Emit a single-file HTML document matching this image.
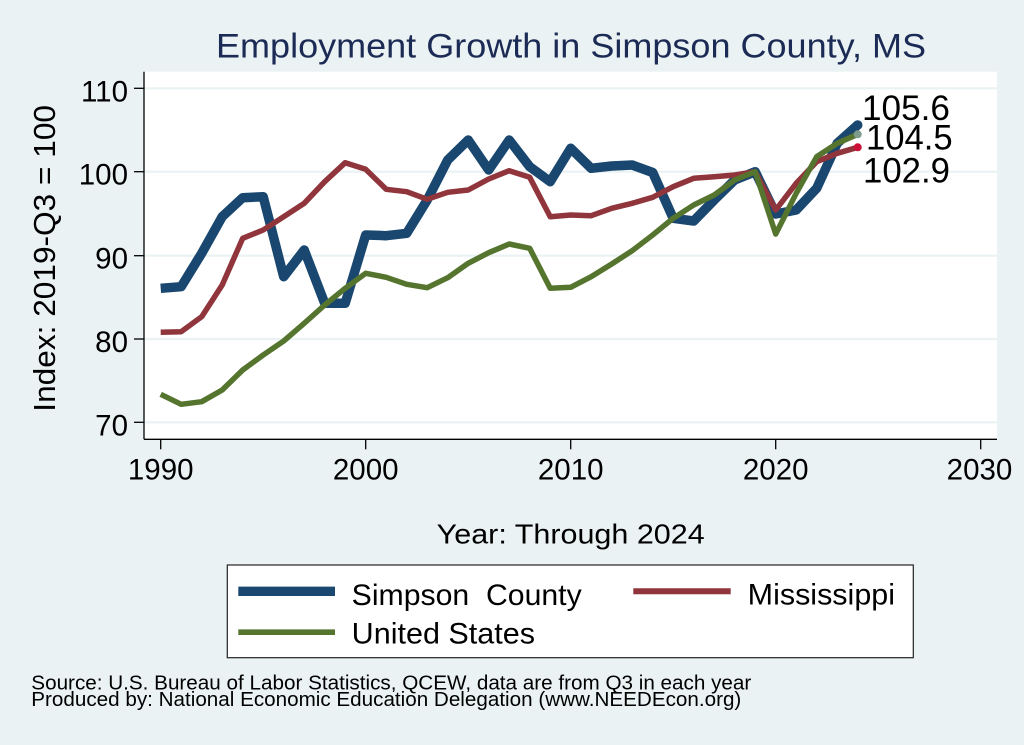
<!DOCTYPE html>
<html>
<head>
<meta charset="utf-8">
<style>
  html, body { margin: 0; padding: 0; background: #eaf2f3; }
  svg { display: block; }
  text { font-family: "Liberation Sans", "DejaVu Sans", sans-serif; }
</style>
</head>
<body>
<svg width="1024" height="745" viewBox="0 0 1024 745" xmlns="http://www.w3.org/2000/svg">
  <rect x="0" y="0" width="1024" height="745" fill="#eaf2f3"/>
  <!-- plot region -->
  <rect x="144" y="71.7" width="853" height="367.6" fill="#ffffff"/>
  <!-- gridlines -->
  <g stroke="#eaf2f3" stroke-width="2.2">
    <line x1="144" y1="88.3" x2="997" y2="88.3"/>
    <line x1="144" y1="171.7" x2="997" y2="171.7"/>
    <line x1="144" y1="255.7" x2="997" y2="255.7"/>
    <line x1="144" y1="339" x2="997" y2="339"/>
    <line x1="144" y1="422.3" x2="997" y2="422.3"/>
  </g>
  <!-- axes -->
  <g stroke="#000" stroke-width="1.3" fill="none">
    <line x1="144" y1="71.7" x2="144" y2="439.3"/>
    <line x1="144" y1="439.3" x2="997" y2="439.3"/>
    <!-- y ticks -->
    <line x1="134" y1="88.3" x2="144" y2="88.3"/>
    <line x1="134" y1="171.7" x2="144" y2="171.7"/>
    <line x1="134" y1="255.7" x2="144" y2="255.7"/>
    <line x1="134" y1="339" x2="144" y2="339"/>
    <line x1="134" y1="422.3" x2="144" y2="422.3"/>
    <!-- x ticks -->
    <line x1="160.7" y1="439.3" x2="160.7" y2="449.3"/>
    <line x1="365.7" y1="439.3" x2="365.7" y2="449.3"/>
    <line x1="570.7" y1="439.3" x2="570.7" y2="449.3"/>
    <line x1="775.7" y1="439.3" x2="775.7" y2="449.3"/>
    <line x1="980.7" y1="439.3" x2="980.7" y2="449.3"/>
  </g>
  <!-- y tick labels -->
  <g font-size="29.5" fill="#000" text-anchor="end">
    <text x="128" y="101.3">110</text>
    <text x="128" y="184.7">100</text>
    <text x="128" y="268.7">90</text>
    <text x="128" y="352">80</text>
    <text x="128" y="435.3">70</text>
  </g>
  <!-- x tick labels -->
  <g font-size="29.5" fill="#000" text-anchor="middle">
    <text x="160.7" y="479.3">1990</text>
    <text x="365.7" y="479.3">2000</text>
    <text x="570.7" y="479.3">2010</text>
    <text x="775.7" y="479.3">2020</text>
    <text x="979.5" y="479.3">2030</text>
  </g>

  <!-- series -->
  <g fill="none" stroke-linejoin="round" stroke-linecap="butt">
    <polyline stroke="#1a476f" stroke-width="9.5" points="160.7,288.3 181.2,286.7 201.7,253.3 222.2,216.7 242.7,197.7 263.2,196.7 283.7,276.7 304.2,250 324.7,303.3 345.2,303.3 365.7,235 386.2,235.7 406.7,233.3 427.2,200 447.7,160 468.2,140 488.7,170 509.2,140 529.7,166.7 550.2,181.7 570.7,148.3 591.2,168.3 611.7,166 632.2,165 652.7,172.5 673.2,218.3 693.7,221 714.2,200 734.7,180 755.2,171.7 775.7,214 796.2,210 816.7,188.3 837.2,143.3 857.7,125"/>
    <polyline stroke="#90353b" stroke-width="5.5" points="160.7,332.3 181.2,331.7 201.7,316.7 222.2,285 242.7,238.3 263.2,230 283.7,216.7 304.2,203.3 324.7,181.7 345.2,162.7 365.7,169.3 386.2,189.3 406.7,191.7 427.2,199.3 447.7,192.3 468.2,190 488.7,179 509.2,170.7 529.7,177.3 550.2,216.7 570.7,215 591.2,215.7 611.7,208.3 632.2,203.3 652.7,197.3 673.2,186.7 693.7,178.3 714.2,176.7 734.7,175 755.2,171.7 775.7,210 796.2,183.3 816.7,161.7 837.2,153.3 857.7,147.3"/>
    <polyline stroke="#55752f" stroke-width="5.5" points="160.7,394.3 181.2,404.3 201.7,401.7 222.2,390 242.7,370 263.2,355 283.7,341 304.2,323.3 324.7,305 345.2,288.3 365.7,273.3 386.2,277.3 406.7,284.3 427.2,287.7 447.7,277.7 468.2,263.3 488.7,252.7 509.2,244 529.7,248.3 550.2,288.3 570.7,287.3 591.2,276.7 611.7,264 632.2,250.7 652.7,235 673.2,218.3 693.7,205 714.2,195 734.7,180 755.2,171.7 775.7,234 796.2,193.3 816.7,156.7 837.2,143.3 857.7,134.3"/>
  </g>
  <!-- end dots -->
  <circle cx="857.7" cy="125" r="4.8" fill="#1a476f"/>
  <circle cx="857.7" cy="134.3" r="4" fill="#7d9a8c"/>
  <circle cx="857.7" cy="147.3" r="4" fill="#cc1038"/>
  <!-- end labels -->
  <g font-size="35" fill="#000">
    <text x="862" y="120" textLength="88" lengthAdjust="spacingAndGlyphs">105.6</text>
    <text x="866" y="149.3" textLength="86.7" lengthAdjust="spacingAndGlyphs">104.5</text>
    <text x="863" y="182.7" textLength="87" lengthAdjust="spacingAndGlyphs">102.9</text>
  </g>

  <!-- title -->
  <text x="216" y="57.7" font-size="34" fill="#1c2b55" textLength="710" lengthAdjust="spacingAndGlyphs">Employment Growth in Simpson County, MS</text>
  <!-- y axis title -->
  <text transform="translate(55,411.7) rotate(-90)" x="0" y="0" font-size="31" fill="#000" textLength="306.7" lengthAdjust="spacingAndGlyphs">Index: 2019-Q3 = 100</text>
  <!-- x axis title -->
  <text x="436.7" y="543.3" font-size="28" fill="#000" textLength="268" lengthAdjust="spacingAndGlyphs">Year: Through 2024</text>

  <!-- legend -->
  <rect x="227.3" y="565" width="686" height="92.7" fill="#ffffff" stroke="#222" stroke-width="1.2"/>
  <line x1="238.3" y1="591.3" x2="335" y2="591.3" stroke="#1a476f" stroke-width="9.3"/>
  <line x1="633.3" y1="591.3" x2="730.7" y2="591.3" stroke="#90353b" stroke-width="6"/>
  <line x1="238.3" y1="632.2" x2="335" y2="632.2" stroke="#55752f" stroke-width="5.7"/>
  <g font-size="30" fill="#000">
    <text x="351.7" y="605" textLength="230" lengthAdjust="spacingAndGlyphs">Simpson&#160; County</text>
    <text x="351.7" y="643.3" textLength="183.3" lengthAdjust="spacingAndGlyphs">United States</text>
    <text x="747.7" y="604.3" textLength="147.3" lengthAdjust="spacingAndGlyphs">Mississippi</text>
  </g>

  <!-- footnotes -->
  <g font-size="20" fill="#000">
    <text x="31.3" y="689.3" textLength="720" lengthAdjust="spacingAndGlyphs">Source: U.S. Bureau of Labor Statistics, QCEW, data are from Q3 in each year</text>
    <text x="31.3" y="706" textLength="710" lengthAdjust="spacingAndGlyphs">Produced by: National Economic Education Delegation (www.NEEDEcon.org)</text>
  </g>
</svg>
</body>
</html>
